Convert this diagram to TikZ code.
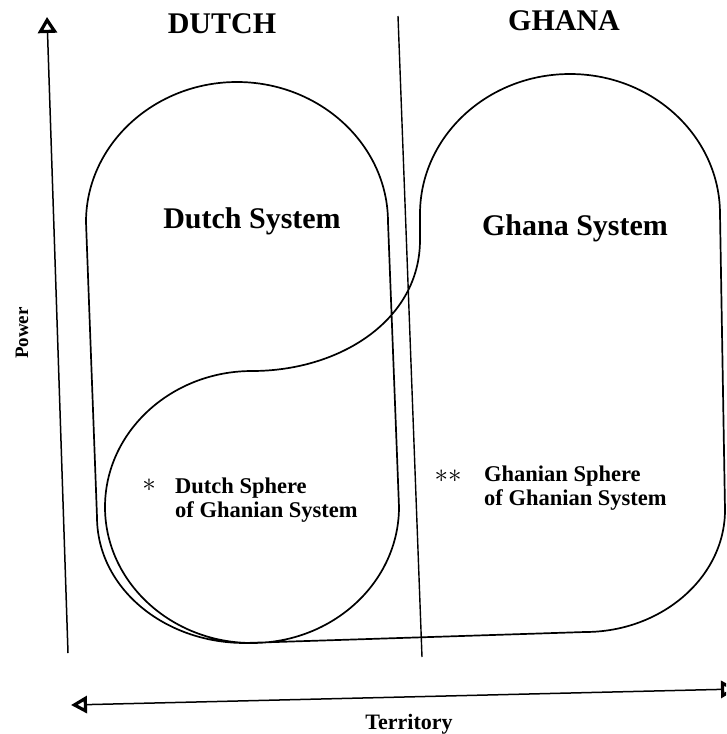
\documentclass[tikz,border=0pt]{standalone}
\usepackage{fontspec}
\setmainfont{Liberation Serif}
\usetikzlibrary{arrows.meta}
\begin{document}
\begin{tikzpicture}[x=1pt,y=-1pt,
  outline/.style={line width=1.7pt, line join=round},
  axisline/.style={line width=1.5pt},
  axistip/.style={-{Triangle[open,length=16pt,width=19pt,line width=3.2pt]}},
  bothtips/.style={{Triangle[open,length=16pt,width=17pt,line width=3.2pt]}-{Triangle[open,length=16pt,width=17pt,line width=3.2pt]}},
  txt/.style={inner sep=0pt, font=\bfseries},
  heading/.style={txt, font=\fontsize{30}{36}\selectfont\bfseries},
  system/.style={txt, anchor=base, font=\fontsize{30}{36}\selectfont\bfseries},
  sphere/.style={txt, align=left, anchor=west, font=\fontsize{22.5}{24}\selectfont\bfseries},
  star/.style={inner sep=0pt, scale=2.7}
]
\useasboundingbox (0,0) rectangle (726,734);
\clip (0,0) rectangle (726,734);

% axes
\coordinate (vbot) at (68,653);
\coordinate (vtop) at (47,17);
\draw[axisline, axistip] (vbot) -- (vtop);
\coordinate (hleft) at (71,705);
\coordinate (hright) at (737,689);
\draw[axisline, bothtips] (hleft) -- (hright);

% divider
\coordinate (dtop) at (398,16);
\coordinate (dbot) at (422,657);
\draw[line width=1.4pt] (dtop) -- (dbot);

% the two interlocking systems (one closed outline)
\draw[outline] (86,222) -- (97,517)
  .. controls (97,587) and (163,643) .. (245,643)
  -- (585,632)
  .. controls (662,632) and (725,577) .. (725,510)
  -- (720,214)
  .. controls (720,137) and (653,74) .. (570,74)
  .. controls (487,74) and (420,137) .. (420,214)
  -- (420,240)
  .. controls (420,320) and (340,371) .. (252,371)
  .. controls (171,371) and (105,432) .. (105,507)
  .. controls (105,582) and (171,643) .. (252,643)
  .. controls (333,643) and (399,582) .. (399,507)
  -- (388,222)
  .. controls (388,145) and (320,82) .. (237,82)
  .. controls (154,82) and (86,145) .. (86,222)
  -- cycle;

% labels
\node[heading] (dutch) at (222,24) {DUTCH};
\node[heading] (ghana) at (564,21) {GHANA};
\node[system] (dsys) at (252,228) {Dutch System};
\node[system] (gsys) at (575,235) {Ghana System};
\node[sphere] (dsph) at (175,500) {Dutch Sphere\\of Ghanian System};
\node[sphere] (gsph) at (484,488) {Ghanian Sphere\\of Ghanian System};
\node[star] (s1) at (149,485) {$\ast$};
\node[star] (s2) at (448,476) {${\ast}{\ast}$};
\node[txt, rotate=90, font=\fontsize{19}{22}\selectfont\bfseries] (power) at (22,333) {Power};
\node[txt, anchor=base, font=\fontsize{22}{26}\selectfont\bfseries] (terr) at (409,729) {Territory};
\end{tikzpicture}
\end{document}
